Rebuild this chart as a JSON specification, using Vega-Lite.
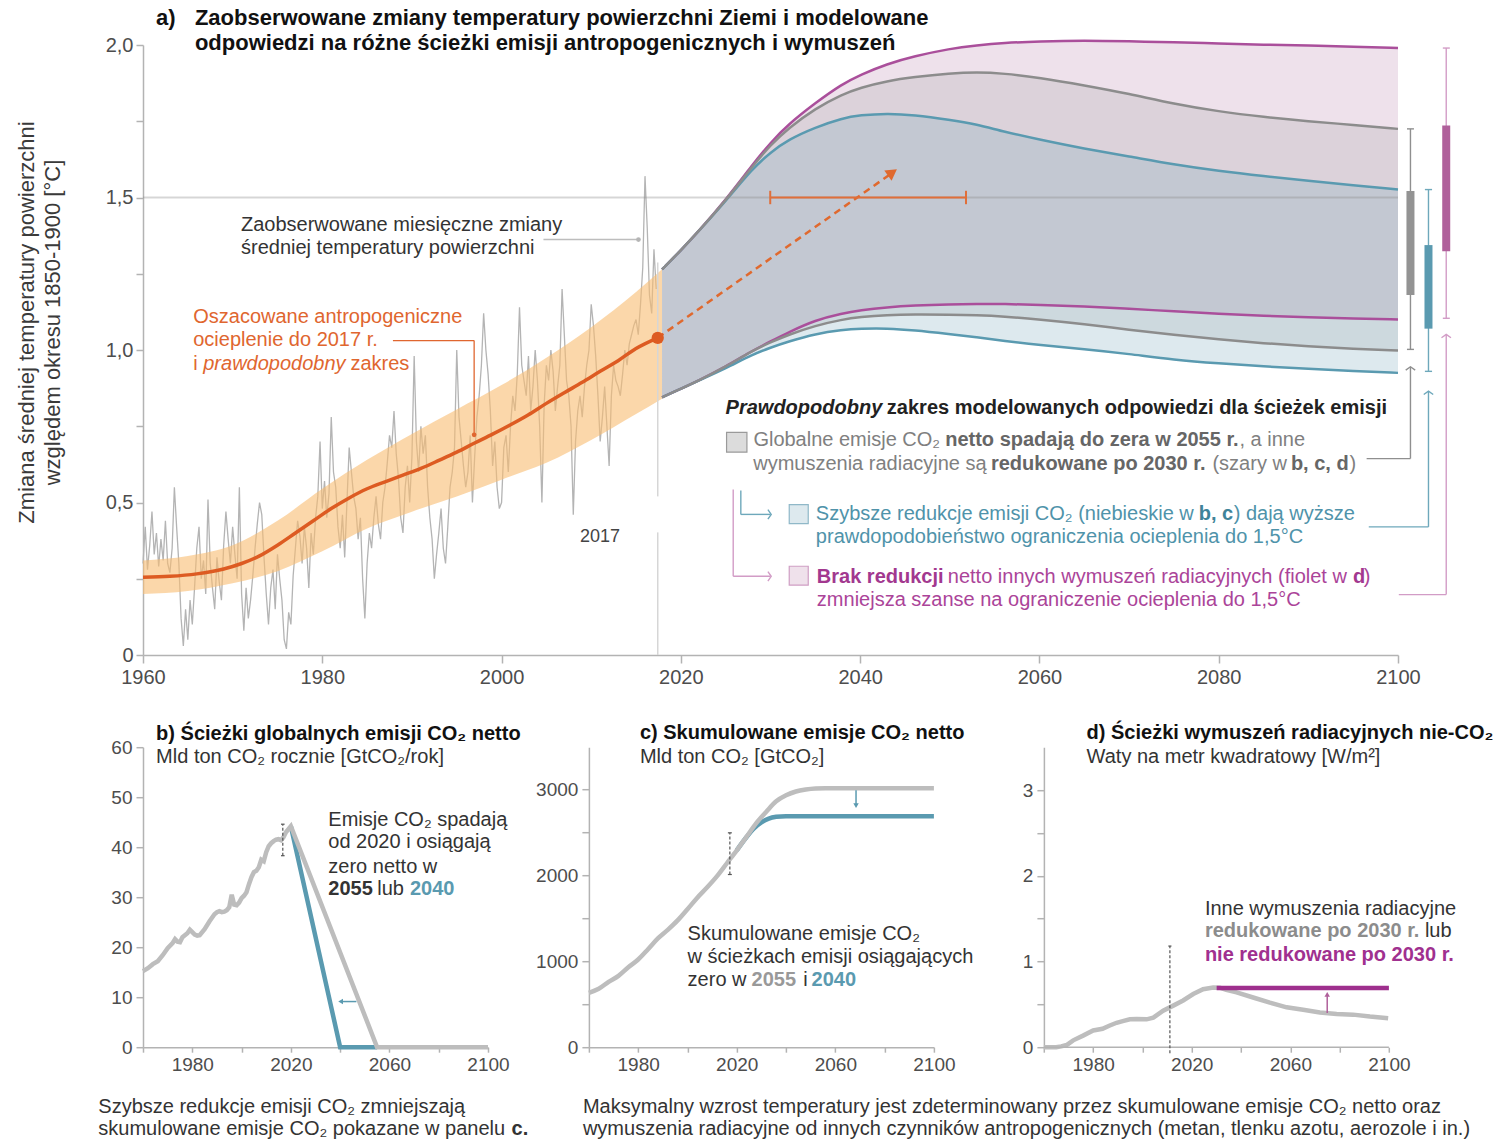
{
"$schema": "https://vega.github.io/schema/vega-lite/v6.json",
"padding": {"left": 15, "top": 6, "right": 2, "bottom": 2},
"background": "white",
"config": {"view": {"stroke": null}, "font": "Liberation Sans",
  "axis": {"grid": false, "domainColor": "#b3b3b3", "tickColor": "#b3b3b3", "domainWidth": 1.5, "tickWidth": 1.5, "labelColor": "#4d4d4d", "labelFlush": false, "labelOverlap": false, "labelFont": "Liberation Sans", "titleFont": "Liberation Sans"}},
"datasets": {
 "model": [
  {"year":2017.9,"pu":1.264,"gu":1.264,"bu":1.264,"pl":0.845,"gl":0.845,"bl":0.845},
  {"year":2020,"pu":1.327,"gu":1.327,"bu":1.327,"pl":0.873,"gl":0.873,"bl":0.873},
  {"year":2022,"pu":1.39,"gu":1.39,"bu":1.39,"pl":0.9,"gl":0.9,"bl":0.9},
  {"year":2025,"pu":1.492,"gu":1.49,"bu":1.488,"pl":0.945,"gl":0.945,"bl":0.94},
  {"year":2028,"pu":1.608,"gu":1.603,"bu":1.595,"pl":0.998,"gl":0.998,"bl":0.985},
  {"year":2030,"pu":1.68,"gu":1.672,"bu":1.648,"pl":1.028,"gl":1.025,"bl":1.008},
  {"year":2032,"pu":1.74,"gu":1.727,"bu":1.69,"pl":1.058,"gl":1.05,"bl":1.028},
  {"year":2035,"pu":1.81,"gu":1.792,"bu":1.73,"pl":1.098,"gl":1.08,"bl":1.053},
  {"year":2038,"pu":1.872,"gu":1.838,"bu":1.76,"pl":1.12,"gl":1.1,"bl":1.066},
  {"year":2040,"pu":1.902,"gu":1.86,"bu":1.77,"pl":1.13,"gl":1.108,"bl":1.07},
  {"year":2043,"pu":1.938,"gu":1.882,"bu":1.776,"pl":1.14,"gl":1.115,"bl":1.071},
  {"year":2046,"pu":1.963,"gu":1.895,"bu":1.771,"pl":1.146,"gl":1.117,"bl":1.065},
  {"year":2050,"pu":1.988,"gu":1.907,"bu":1.755,"pl":1.15,"gl":1.116,"bl":1.052},
  {"year":2053,"pu":1.999,"gu":1.911,"bu":1.74,"pl":1.151,"gl":1.114,"bl":1.042},
  {"year":2056,"pu":2.007,"gu":1.907,"bu":1.716,"pl":1.151,"gl":1.11,"bl":1.03},
  {"year":2060,"pu":2.012,"gu":1.893,"bu":1.69,"pl":1.148,"gl":1.1,"bl":1.016},
  {"year":2065,"pu":2.015,"gu":1.868,"bu":1.66,"pl":1.143,"gl":1.085,"bl":1.003},
  {"year":2070,"pu":2.012,"gu":1.84,"bu":1.635,"pl":1.135,"gl":1.066,"bl":0.987},
  {"year":2075,"pu":2.009,"gu":1.807,"bu":1.608,"pl":1.127,"gl":1.05,"bl":0.968},
  {"year":2080,"pu":2.005,"gu":1.782,"bu":1.587,"pl":1.119,"gl":1.035,"bl":0.956},
  {"year":2085,"pu":2.001,"gu":1.764,"bu":1.57,"pl":1.112,"gl":1.022,"bl":0.946},
  {"year":2090,"pu":1.998,"gu":1.75,"bu":1.555,"pl":1.107,"gl":1.012,"bl":0.938},
  {"year":2095,"pu":1.995,"gu":1.738,"bu":1.54,"pl":1.103,"gl":1.004,"bl":0.931},
  {"year":2100,"pu":1.99,"gu":1.725,"bu":1.526,"pl":1.1,"gl":0.998,"bl":0.925}
 ]
},
"spacing": 92.2,
"bounds": "flush",
"vconcat": [
 {
  "width": 1255, "height": 610,
  "layer": [
   {"data": {"values": [
{"year":1960,"v":0.3},{"year":1960.25,"v":0.42},{"year":1960.5,"v":0.28},{"year":1960.75,"v":0.36},{"year":1961,"v":0.47},{"year":1961.25,"v":0.33},{"year":1961.5,"v":0.4},{"year":1961.75,"v":0.29},
{"year":1962,"v":0.38},{"year":1962.25,"v":0.31},{"year":1962.5,"v":0.44},{"year":1962.75,"v":0.3},{"year":1963,"v":0.27},{"year":1963.25,"v":0.35},{"year":1963.5,"v":0.55},{"year":1963.75,"v":0.42},
{"year":1964,"v":0.3},{"year":1964.25,"v":0.12},{"year":1964.5,"v":0.03},{"year":1964.75,"v":0.15},{"year":1965,"v":0.05},{"year":1965.25,"v":0.18},{"year":1965.5,"v":0.1},{"year":1965.75,"v":0.22},
{"year":1966,"v":0.35},{"year":1966.25,"v":0.42},{"year":1966.5,"v":0.25},{"year":1966.75,"v":0.31},{"year":1967,"v":0.2},{"year":1967.25,"v":0.51},{"year":1967.5,"v":0.3},{"year":1967.75,"v":0.22},
{"year":1968,"v":0.15},{"year":1968.25,"v":0.32},{"year":1968.5,"v":0.24},{"year":1968.75,"v":0.18},{"year":1969,"v":0.36},{"year":1969.25,"v":0.47},{"year":1969.5,"v":0.38},{"year":1969.75,"v":0.3},
{"year":1970,"v":0.42},{"year":1970.25,"v":0.33},{"year":1970.5,"v":0.25},{"year":1970.75,"v":0.55},{"year":1971,"v":0.2},{"year":1971.25,"v":0.08},{"year":1971.5,"v":0.22},{"year":1971.75,"v":0.12},
{"year":1972,"v":0.18},{"year":1972.25,"v":0.26},{"year":1972.5,"v":0.35},{"year":1972.75,"v":0.43},{"year":1973,"v":0.5},{"year":1973.25,"v":0.46},{"year":1973.5,"v":0.32},{"year":1973.75,"v":0.2},
{"year":1974,"v":0.1},{"year":1974.25,"v":0.22},{"year":1974.5,"v":0.28},{"year":1974.75,"v":0.15},{"year":1975,"v":0.33},{"year":1975.25,"v":0.25},{"year":1975.5,"v":0.18},{"year":1975.75,"v":0.05},
{"year":1976,"v":0.02},{"year":1976.25,"v":0.14},{"year":1976.5,"v":0.1},{"year":1976.75,"v":0.26},{"year":1977,"v":0.35},{"year":1977.25,"v":0.44},{"year":1977.5,"v":0.39},{"year":1977.75,"v":0.3},
{"year":1978,"v":0.42},{"year":1978.25,"v":0.35},{"year":1978.5,"v":0.22},{"year":1978.75,"v":0.4},{"year":1979,"v":0.33},{"year":1979.25,"v":0.45},{"year":1979.5,"v":0.52},{"year":1979.75,"v":0.7},
{"year":1980,"v":0.48},{"year":1980.25,"v":0.57},{"year":1980.5,"v":0.45},{"year":1980.75,"v":0.53},{"year":1981,"v":0.78},{"year":1981.25,"v":0.6},{"year":1981.5,"v":0.55},{"year":1981.75,"v":0.42},
{"year":1982,"v":0.35},{"year":1982.25,"v":0.46},{"year":1982.5,"v":0.32},{"year":1982.75,"v":0.5},{"year":1983,"v":0.68},{"year":1983.25,"v":0.6},{"year":1983.5,"v":0.52},{"year":1983.75,"v":0.48},
{"year":1984,"v":0.38},{"year":1984.25,"v":0.45},{"year":1984.5,"v":0.25},{"year":1984.75,"v":0.12},{"year":1985,"v":0.3},{"year":1985.25,"v":0.4},{"year":1985.5,"v":0.35},{"year":1985.75,"v":0.45},
{"year":1986,"v":0.52},{"year":1986.25,"v":0.43},{"year":1986.5,"v":0.38},{"year":1986.75,"v":0.5},{"year":1987,"v":0.55},{"year":1987.25,"v":0.63},{"year":1987.5,"v":0.72},{"year":1987.75,"v":0.68},
{"year":1988,"v":0.8},{"year":1988.25,"v":0.66},{"year":1988.5,"v":0.58},{"year":1988.75,"v":0.45},{"year":1989,"v":0.4},{"year":1989.25,"v":0.55},{"year":1989.5,"v":0.62},{"year":1989.75,"v":0.5},
{"year":1990,"v":0.65},{"year":1990.25,"v":0.98},{"year":1990.5,"v":0.7},{"year":1990.75,"v":0.6},{"year":1991,"v":0.75},{"year":1991.25,"v":0.66},{"year":1991.5,"v":0.72},{"year":1991.75,"v":0.55},
{"year":1992,"v":0.45},{"year":1992.25,"v":0.38},{"year":1992.5,"v":0.25},{"year":1992.75,"v":0.33},{"year":1993,"v":0.4},{"year":1993.25,"v":0.48},{"year":1993.5,"v":0.35},{"year":1993.75,"v":0.3},
{"year":1994,"v":0.42},{"year":1994.25,"v":0.55},{"year":1994.5,"v":0.6},{"year":1994.75,"v":0.68},{"year":1995,"v":1.0},{"year":1995.25,"v":0.78},{"year":1995.5,"v":0.7},{"year":1995.75,"v":0.62},
{"year":1996,"v":0.55},{"year":1996.25,"v":0.6},{"year":1996.5,"v":0.72},{"year":1996.75,"v":0.5},{"year":1997,"v":0.65},{"year":1997.25,"v":0.78},{"year":1997.5,"v":0.85},{"year":1997.75,"v":0.95},
{"year":1998,"v":1.12},{"year":1998.25,"v":1.0},{"year":1998.5,"v":0.92},{"year":1998.75,"v":0.8},{"year":1999,"v":0.62},{"year":1999.25,"v":0.7},{"year":1999.5,"v":0.55},{"year":1999.75,"v":0.48},
{"year":2000,"v":0.5},{"year":2000.25,"v":0.68},{"year":2000.5,"v":0.72},{"year":2000.75,"v":0.6},{"year":2001,"v":0.75},{"year":2001.25,"v":0.85},{"year":2001.5,"v":0.8},{"year":2001.75,"v":0.92},
{"year":2002,"v":1.14},{"year":2002.25,"v":0.95},{"year":2002.5,"v":0.9},{"year":2002.75,"v":0.85},{"year":2003,"v":0.98},{"year":2003.25,"v":0.8},{"year":2003.5,"v":0.88},{"year":2003.75,"v":1.0},
{"year":2004,"v":0.9},{"year":2004.25,"v":0.75},{"year":2004.5,"v":0.5},{"year":2004.75,"v":0.82},{"year":2005,"v":0.95},{"year":2005.25,"v":0.9},{"year":2005.5,"v":1.0},{"year":2005.75,"v":0.93},
{"year":2006,"v":0.8},{"year":2006.25,"v":0.88},{"year":2006.5,"v":0.95},{"year":2006.75,"v":1.2},{"year":2007,"v":1.05},{"year":2007.25,"v":0.9},{"year":2007.5,"v":0.85},{"year":2007.75,"v":0.75},
{"year":2008,"v":0.46},{"year":2008.25,"v":0.7},{"year":2008.5,"v":0.8},{"year":2008.75,"v":0.85},{"year":2009,"v":0.78},{"year":2009.25,"v":0.88},{"year":2009.5,"v":0.95},{"year":2009.75,"v":1.0},
{"year":2010,"v":1.15},{"year":2010.25,"v":1.08},{"year":2010.5,"v":0.98},{"year":2010.75,"v":0.85},{"year":2011,"v":0.7},{"year":2011.25,"v":0.78},{"year":2011.5,"v":0.88},{"year":2011.75,"v":0.75},
{"year":2012,"v":0.62},{"year":2012.25,"v":0.85},{"year":2012.5,"v":0.95},{"year":2012.75,"v":0.9},{"year":2013,"v":0.88},{"year":2013.25,"v":0.85},{"year":2013.5,"v":0.92},{"year":2013.75,"v":1.0},
{"year":2014,"v":0.95},{"year":2014.25,"v":1.02},{"year":2014.5,"v":1.05},{"year":2014.75,"v":1.08},{"year":2015,"v":1.1},{"year":2015.25,"v":1.05},{"year":2015.5,"v":1.15},{"year":2015.75,"v":1.27},
{"year":2016,"v":1.57},{"year":2016.25,"v":1.4},{"year":2016.5,"v":1.18},{"year":2016.75,"v":1.12},{"year":2017,"v":1.33},{"year":2017.25,"v":1.2}
    ]},
    "mark": {"type": "line", "color": "#b4b4b4", "strokeWidth": 1.3},
    "encoding": {
     "x": {"field": "year", "type": "quantitative", "scale": {"domain": [1960, 2100], "nice": false, "zero": false},
       "axis": {"values": [1960,1980,2000,2020,2040,2060,2080,2100], "format": "d", "title": null, "labelFontSize": 20, "tickSize": 8, "labelPadding": 4}},
     "y": {"field": "v", "type": "quantitative", "scale": {"domain": [0, 2], "nice": false, "zero": false},
       "axis": {"values": [0,0.25,0.5,0.75,1,1.25,1.5,1.75,2], "labelExpr": "datum.value === 0 ? '0' : (datum.value % 0.5 === 0 ? replace(format(datum.value, '.1f'), '.', ',') : '')",
         "title": ["Zmiana średniej temperatury powierzchni", "względem okresu 1850-1900 [°C]"], "titleFontSize": 22, "titleFontWeight": "normal", "titleColor": "#3a3a3a",
         "titleX": -110, "titleY": 277, "titleAngle": -90, "titleAlign": "center", "titleBaseline": "alphabetic", "titleLineHeight": 26,
         "labelFontSize": 20, "tickSize": 7, "labelPadding": 3}}
    }},
   {"data": {"values": [
     {"year":1960,"lo":0.2,"hi":0.31},{"year":1965,"lo":0.21,"hi":0.325},{"year":1970,"lo":0.235,"hi":0.36},{"year":1975,"lo":0.275,"hi":0.44},
     {"year":1980,"lo":0.34,"hi":0.545},{"year":1985,"lo":0.415,"hi":0.64},{"year":1990,"lo":0.47,"hi":0.725},{"year":1995,"lo":0.52,"hi":0.805},
     {"year":2000,"lo":0.575,"hi":0.885},{"year":2005,"lo":0.63,"hi":0.975},{"year":2010,"lo":0.705,"hi":1.075},{"year":2015,"lo":0.79,"hi":1.19},{"year":2017.9,"lo":0.84,"hi":1.265}]},
    "mark": {"type": "area", "color": "#f9bd72", "opacity": 0.6, "interpolate": "monotone"},
    "encoding": {"x": {"field": "year", "type": "quantitative"}, "y": {"field": "lo", "type": "quantitative"}, "y2": {"field": "hi"}}},
   {"data": {"values": [{"x":2017.42,"y1":0,"y2":0.402},{"x":2017.42,"y1":0.52,"y2":1.287}]},
    "mark": {"type": "rule", "color": "#d6d6d6", "strokeWidth": 1.5},
    "encoding": {"x": {"field": "x", "type": "quantitative"}, "y": {"field": "y1", "type": "quantitative"}, "y2": {"field": "y2"}}},
   {"data": {"name": "model"}, "mark": {"type": "area", "color": "#eee1eb", "interpolate": "basis"},
    "encoding": {"x": {"field": "year", "type": "quantitative"}, "y": {"field": "gu", "type": "quantitative"}, "y2": {"field": "pu"}}},
   {"data": {"name": "model"}, "mark": {"type": "area", "color": "#dcd2da", "interpolate": "basis"},
    "encoding": {"x": {"field": "year", "type": "quantitative"}, "y": {"field": "bu", "type": "quantitative"}, "y2": {"field": "gu"}}},
   {"data": {"name": "model"}, "mark": {"type": "area", "color": "#c3c8d2", "interpolate": "basis"},
    "encoding": {"x": {"field": "year", "type": "quantitative"}, "y": {"field": "pl", "type": "quantitative"}, "y2": {"field": "bu"}}},
   {"data": {"name": "model"}, "mark": {"type": "area", "color": "#cdd9de", "interpolate": "basis"},
    "encoding": {"x": {"field": "year", "type": "quantitative"}, "y": {"field": "gl", "type": "quantitative"}, "y2": {"field": "pl"}}},
   {"data": {"name": "model"}, "mark": {"type": "area", "color": "#dde9ee", "interpolate": "basis"},
    "encoding": {"x": {"field": "year", "type": "quantitative"}, "y": {"field": "bl", "type": "quantitative"}, "y2": {"field": "gl"}}},
   {"data": {"name": "model"}, "mark": {"type": "line", "color": "#aa4f9b", "strokeWidth": 2.5, "interpolate": "basis"},
    "encoding": {"x": {"field": "year", "type": "quantitative"}, "y": {"field": "pu", "type": "quantitative"}}},
   {"data": {"name": "model"}, "mark": {"type": "line", "color": "#aa4f9b", "strokeWidth": 2.5, "interpolate": "basis"},
    "encoding": {"x": {"field": "year", "type": "quantitative"}, "y": {"field": "pl", "type": "quantitative"}}},
   {"data": {"name": "model"}, "mark": {"type": "line", "color": "#5a9ab0", "strokeWidth": 2.5, "interpolate": "basis"},
    "encoding": {"x": {"field": "year", "type": "quantitative"}, "y": {"field": "bu", "type": "quantitative"}}},
   {"data": {"name": "model"}, "mark": {"type": "line", "color": "#5a9ab0", "strokeWidth": 2.5, "interpolate": "basis"},
    "encoding": {"x": {"field": "year", "type": "quantitative"}, "y": {"field": "bl", "type": "quantitative"}}},
   {"data": {"name": "model"}, "mark": {"type": "line", "color": "#8c8c8c", "strokeWidth": 2.5, "interpolate": "basis"},
    "encoding": {"x": {"field": "year", "type": "quantitative"}, "y": {"field": "gu", "type": "quantitative"}}},
   {"data": {"name": "model"}, "mark": {"type": "line", "color": "#8c8c8c", "strokeWidth": 2.5, "interpolate": "basis"},
    "encoding": {"x": {"field": "year", "type": "quantitative"}, "y": {"field": "gl", "type": "quantitative"}}},
   {"data": {"values": [{"x1":1960,"x2":2100,"y":1.5}]},
    "mark": {"type": "rule", "color": "#8a8a8a", "opacity": 0.35, "strokeWidth": 2},
    "encoding": {"x": {"field": "x1", "type": "quantitative"}, "x2": {"field": "x2"}, "y": {"field": "y", "type": "quantitative"}}},
   {"data": {"values": [
     {"year":1960,"v":0.255},{"year":1963,"v":0.258},{"year":1966,"v":0.266},{"year":1969,"v":0.282},{"year":1971,"v":0.3},{"year":1973,"v":0.325},{"year":1975,"v":0.36},
     {"year":1977,"v":0.4},{"year":1979,"v":0.44},{"year":1981,"v":0.48},{"year":1983,"v":0.515},{"year":1985,"v":0.545},{"year":1987,"v":0.568},{"year":1989,"v":0.59},
     {"year":1991,"v":0.612},{"year":1993,"v":0.638},{"year":1995,"v":0.665},{"year":1997,"v":0.695},{"year":1999,"v":0.724},{"year":2001,"v":0.755},{"year":2003,"v":0.788},
     {"year":2005,"v":0.825},{"year":2007,"v":0.86},{"year":2009,"v":0.894},{"year":2011,"v":0.93},{"year":2013,"v":0.965},{"year":2015,"v":1.005},{"year":2017.42,"v":1.04}]},
    "mark": {"type": "line", "color": "#dd5b22", "strokeWidth": 3.5, "interpolate": "monotone"},
    "encoding": {"x": {"field": "year", "type": "quantitative"}, "y": {"field": "v", "type": "quantitative"}}},
   {"data": {"values": [{"x1":1987.88,"x2":1996.94,"y1":1.031,"y2":1.031},{"x1":1996.94,"x2":1996.94,"y1":1.031,"y2":0.722}]},
    "mark": {"type": "rule", "color": "#e0662f", "strokeWidth": 1.3},
    "encoding": {"x": {"field": "x1", "type": "quantitative"}, "x2": {"field": "x2"}, "y": {"field": "y1", "type": "quantitative"}, "y2": {"field": "y2"}}},
   {"data": {"values": [{"x":1996.94,"y":0.722}]},
    "mark": {"type": "point", "filled": true, "color": "#e0662f", "size": 22, "opacity": 1},
    "encoding": {"x": {"field": "x", "type": "quantitative"}, "y": {"field": "y", "type": "quantitative"}}},
   {"data": {"values": [{"x1":2004.67,"x2":2015.27,"y":1.362}]},
    "mark": {"type": "rule", "color": "#bdbdbd", "strokeWidth": 1.5},
    "encoding": {"x": {"field": "x1", "type": "quantitative"}, "x2": {"field": "x2"}, "y": {"field": "y", "type": "quantitative"}}},
   {"data": {"values": [{"x":2015.27,"y":1.362}]},
    "mark": {"type": "point", "filled": true, "color": "#b5b5b5", "size": 22, "opacity": 1},
    "encoding": {"x": {"field": "x", "type": "quantitative"}, "y": {"field": "y", "type": "quantitative"}}},
   {"data": {"values": [{"x1":2017.42,"y1":1.04,"x2":2043.2,"y2":1.573}]},
    "mark": {"type": "rule", "color": "#e0692e", "strokeWidth": 2.5, "strokeDash": [7, 5]},
    "encoding": {"x": {"field": "x1", "type": "quantitative"}, "x2": {"field": "x2"}, "y": {"field": "y1", "type": "quantitative"}, "y2": {"field": "y2"}}},
   {"data": {"values": [{"x":2043.6,"y":1.582}]},
    "mark": {"type": "point", "shape": "triangle-up", "angle": 54.8, "filled": true, "color": "#e0692e", "size": 160, "opacity": 1},
    "encoding": {"x": {"field": "x", "type": "quantitative"}, "y": {"field": "y", "type": "quantitative"}}},
   {"data": {"values": [{"x":2017.42,"y":1.04}]},
    "mark": {"type": "point", "filled": true, "color": "#dd5b22", "size": 150, "opacity": 1},
    "encoding": {"x": {"field": "x", "type": "quantitative"}, "y": {"field": "y", "type": "quantitative"}}},
   {"data": {"values": [{"x1":2029.97,"x2":2051.81,"y1":1.5,"y2":1.5},{"x1":2029.97,"x2":2029.97,"y1":1.478,"y2":1.522},{"x1":2051.81,"x2":2051.81,"y1":1.478,"y2":1.522}]},
    "mark": {"type": "rule", "color": "#e06f3a", "strokeWidth": 2},
    "encoding": {"x": {"field": "x1", "type": "quantitative"}, "x2": {"field": "x2"}, "y": {"field": "y1", "type": "quantitative"}, "y2": {"field": "y2"}}},
   {"data": {"values": [
     {"x1":2101.39,"x2":2101.39,"y1":1.002,"y2":1.725},{"x1":2101.0,"x2":2101.78,"y1":1.725,"y2":1.725},{"x1":2101.0,"x2":2101.78,"y1":1.002,"y2":1.002},
     {"x1":2096.5,"x2":2101.39,"y1":0.644,"y2":0.644},{"x1":2101.39,"x2":2101.39,"y1":0.644,"y2":0.945}]},
    "mark": {"type": "rule", "color": "#8f8f8f", "strokeWidth": 1.4},
    "encoding": {"x": {"field": "x1", "type": "quantitative"}, "x2": {"field": "x2"}, "y": {"field": "y1", "type": "quantitative"}, "y2": {"field": "y2"}}},
   {"data": {"values": [
     {"x1":2103.4,"x2":2103.4,"y1":0.93,"y2":1.526},{"x1":2103.0,"x2":2103.8,"y1":1.526,"y2":1.526},{"x1":2103.0,"x2":2103.8,"y1":0.93,"y2":0.93},
     {"x1":2096.74,"x2":2103.4,"y1":0.42,"y2":0.42},{"x1":2103.4,"x2":2103.4,"y1":0.42,"y2":0.865},
     {"x1":2026.69,"x2":2026.69,"y1":0.539,"y2":0.461},{"x1":2026.69,"x2":2030.0,"y1":0.461,"y2":0.461}]},
    "mark": {"type": "rule", "color": "#6ea8bb", "strokeWidth": 1.4},
    "encoding": {"x": {"field": "x1", "type": "quantitative"}, "x2": {"field": "x2"}, "y": {"field": "y1", "type": "quantitative"}, "y2": {"field": "y2"}}},
   {"data": {"values": [
     {"x1":2105.38,"x2":2105.38,"y1":1.104,"y2":1.99},{"x1":2105.0,"x2":2105.78,"y1":1.99,"y2":1.99},{"x1":2105.0,"x2":2105.78,"y1":1.104,"y2":1.104},
     {"x1":2100.09,"x2":2105.38,"y1":0.198,"y2":0.198},{"x1":2105.38,"x2":2105.38,"y1":0.198,"y2":1.051},
     {"x1":2025.84,"x2":2025.84,"y1":0.543,"y2":0.258},{"x1":2025.84,"x2":2030.0,"y1":0.258,"y2":0.258}]},
    "mark": {"type": "rule", "color": "#d29cc6", "strokeWidth": 1.4},
    "encoding": {"x": {"field": "x1", "type": "quantitative"}, "x2": {"field": "x2"}, "y": {"field": "y1", "type": "quantitative"}, "y2": {"field": "y2"}}},
   {"data": {"values": [{"x":2101.39,"y1":1.18,"y2":1.521}]},
    "mark": {"type": "rule", "color": "#939393", "strokeWidth": 8},
    "encoding": {"x": {"field": "x", "type": "quantitative"}, "y": {"field": "y1", "type": "quantitative"}, "y2": {"field": "y2"}}},
   {"data": {"values": [{"x":2103.4,"y1":1.07,"y2":1.344}]},
    "mark": {"type": "rule", "color": "#5a9ab0", "strokeWidth": 8},
    "encoding": {"x": {"field": "x", "type": "quantitative"}, "y": {"field": "y1", "type": "quantitative"}, "y2": {"field": "y2"}}},
   {"data": {"values": [{"x":2105.38,"y1":1.324,"y2":1.736}]},
    "mark": {"type": "rule", "color": "#b0609b", "strokeWidth": 8},
    "encoding": {"x": {"field": "x", "type": "quantitative"}, "y": {"field": "y1", "type": "quantitative"}, "y2": {"field": "y2"}}},
   {"data": {"values": [{"x":2101.39,"y":0.945}]},
    "mark": {"type": "point", "shape": "M -1 0.7 L 0 0 L 1 0.7", "filled": false, "color": "#8f8f8f", "strokeWidth": 1.4, "size": 90, "opacity": 1},
    "encoding": {"x": {"field": "x", "type": "quantitative"}, "y": {"field": "y", "type": "quantitative"}}},
   {"data": {"values": [{"x":2103.4,"y":0.865}]},
    "mark": {"type": "point", "shape": "M -1 0.7 L 0 0 L 1 0.7", "filled": false, "color": "#6ea8bb", "strokeWidth": 1.4, "size": 90, "opacity": 1},
    "encoding": {"x": {"field": "x", "type": "quantitative"}, "y": {"field": "y", "type": "quantitative"}}},
   {"data": {"values": [{"x":2105.38,"y":1.051}]},
    "mark": {"type": "point", "shape": "M -1 0.7 L 0 0 L 1 0.7", "filled": false, "color": "#d29cc6", "strokeWidth": 1.4, "size": 90, "opacity": 1},
    "encoding": {"x": {"field": "x", "type": "quantitative"}, "y": {"field": "y", "type": "quantitative"}}},
   {"data": {"values": [{"x":2030.08,"y":0.461}]},
    "mark": {"type": "point", "shape": "M -0.7 -1 L 0 0 L -0.7 1", "filled": false, "color": "#6ea8bb", "strokeWidth": 1.4, "size": 90, "opacity": 1},
    "encoding": {"x": {"field": "x", "type": "quantitative"}, "y": {"field": "y", "type": "quantitative"}}},
   {"data": {"values": [{"x":2030.08,"y":0.258}]},
    "mark": {"type": "point", "shape": "M -0.7 -1 L 0 0 L -0.7 1", "filled": false, "color": "#d29cc6", "strokeWidth": 1.4, "size": 90, "opacity": 1},
    "encoding": {"x": {"field": "x", "type": "quantitative"}, "y": {"field": "y", "type": "quantitative"}}},
   {"data": {"values": [{"x1":2025.1,"x2":2027.37,"y1":0.665,"y2":0.73}]},
    "mark": {"type": "rect", "fill": "#dcdcdc", "stroke": "#9a9a9a", "strokeWidth": 1.2},
    "encoding": {"x": {"field": "x1", "type": "quantitative"}, "x2": {"field": "x2"}, "y": {"field": "y1", "type": "quantitative"}, "y2": {"field": "y2"}}},
   {"data": {"values": [{"x1":2032.09,"x2":2034.21,"y1":0.431,"y2":0.493}]},
    "mark": {"type": "rect", "fill": "#dde9ee", "stroke": "#8fb8c8", "strokeWidth": 1.2},
    "encoding": {"x": {"field": "x1", "type": "quantitative"}, "x2": {"field": "x2"}, "y": {"field": "y1", "type": "quantitative"}, "y2": {"field": "y2"}}},
   {"data": {"values": [{"x1":2032.09,"x2":2034.21,"y1":0.229,"y2":0.291}]},
    "mark": {"type": "rect", "fill": "#efe1eb", "stroke": "#cf9ec4", "strokeWidth": 1.2},
    "encoding": {"x": {"field": "x1", "type": "quantitative"}, "x2": {"field": "x2"}, "y": {"field": "y1", "type": "quantitative"}, "y2": {"field": "y2"}}},
   {"data": {"values": [{"x":1961.44,"y":2.067,"t":"a)"},{"x":1965.79,"y":2.067,"t":"Zaobserwowane zmiany temperatury powierzchni Ziemi i modelowane"},{"x":1965.79,"y":1.983,"t":"odpowiedzi na różne ścieżki emisji antropogenicznych i wymuszeń"}]},
    "mark": {"type": "text", "align": "left", "baseline": "alphabetic", "fontSize": 22, "fontWeight": "bold", "color": "#111111"},
    "encoding": {"x": {"field": "x", "type": "quantitative"}, "y": {"field": "y", "type": "quantitative"}, "text": {"field": "t", "type": "nominal"}}},
   {"data": {"values": [{"x":1970.93,"y":1.39,"t":"Zaobserwowane miesięczne zmiany"},{"x":1970.93,"y":1.316,"t":"średniej temperatury powierzchni"}]},
    "mark": {"type": "text", "align": "left", "baseline": "alphabetic", "fontSize": 20, "color": "#333333"},
    "encoding": {"x": {"field": "x", "type": "quantitative"}, "y": {"field": "y", "type": "quantitative"}, "text": {"field": "t", "type": "nominal"}}},
   {"data": {"values": [{"x":1965.6,"y":1.089,"t":"Oszacowane antropogeniczne"},{"x":1965.6,"y":1.012,"t":"ocieplenie do 2017 r."},{"x":1965.6,"y":0.934,"t":"i"},{"x":1983.14,"y":0.934,"t":"zakres"}]},
    "mark": {"type": "text", "align": "left", "baseline": "alphabetic", "fontSize": 20, "color": "#e0662f"},
    "encoding": {"x": {"field": "x", "type": "quantitative"}, "y": {"field": "y", "type": "quantitative"}, "text": {"field": "t", "type": "nominal"}}},
   {"data": {"values": [{"x":1966.72,"y":0.934,"t":"prawdopodobny"}]},
    "mark": {"type": "text", "align": "left", "baseline": "alphabetic", "fontSize": 20, "fontStyle": "italic", "color": "#e0662f"},
    "encoding": {"x": {"field": "x", "type": "quantitative"}, "y": {"field": "y", "type": "quantitative"}, "text": {"field": "t", "type": "nominal"}}},
   {"data": {"values": [{"x":2010.99,"y":0.372,"t":"2017"}]},
    "mark": {"type": "text", "align": "center", "baseline": "alphabetic", "fontSize": 18, "color": "#444444"},
    "encoding": {"x": {"field": "x", "type": "quantitative"}, "y": {"field": "y", "type": "quantitative"}, "text": {"field": "t", "type": "nominal"}}},
   {"data": {"values": [{"x":2024.99,"y":0.789,"t":"Prawdopodobny"}]},
    "mark": {"type": "text", "align": "left", "baseline": "alphabetic", "fontSize": 20, "fontWeight": "bold", "fontStyle": "italic", "color": "#222222"},
    "encoding": {"x": {"field": "x", "type": "quantitative"}, "y": {"field": "y", "type": "quantitative"}, "text": {"field": "t", "type": "nominal"}}},
   {"data": {"values": [{"x":2042.98,"y":0.789,"t":"zakres modelowanych odpowiedzi dla ścieżek emisji"}]},
    "mark": {"type": "text", "align": "left", "baseline": "alphabetic", "fontSize": 20, "fontWeight": "bold", "color": "#222222"},
    "encoding": {"x": {"field": "x", "type": "quantitative"}, "y": {"field": "y", "type": "quantitative"}, "text": {"field": "t", "type": "nominal"}}},
   {"data": {"values": [{"x":2028.09,"y":0.685,"t":"Globalne emisje CO₂"},{"x":2082.31,"y":0.685,"t":", a inne"},{"x":2028.07,"y":0.608,"t":"wymuszenia radiacyjne są"},{"x":2079.3,"y":0.608,"t":"(szary w"},{"x":2094.6,"y":0.608,"t":")"}]},
    "mark": {"type": "text", "align": "left", "baseline": "alphabetic", "fontSize": 20, "color": "#808080"},
    "encoding": {"x": {"field": "x", "type": "quantitative"}, "y": {"field": "y", "type": "quantitative"}, "text": {"field": "t", "type": "nominal"}}},
   {"data": {"values": [{"x":2049.49,"y":0.685,"t":"netto spadają do zera w 2055 r."},{"x":2054.59,"y":0.608,"t":"redukowane po 2030 r."},{"x":2088.05,"y":0.608,"t":"b, c, d"}]},
    "mark": {"type": "text", "align": "left", "baseline": "alphabetic", "fontSize": 20, "fontWeight": "bold", "color": "#666666"},
    "encoding": {"x": {"field": "x", "type": "quantitative"}, "y": {"field": "y", "type": "quantitative"}, "text": {"field": "t", "type": "nominal"}}},
   {"data": {"values": [{"x":2035.06,"y":0.444,"t":"Szybsze redukcje emisji CO₂ (niebieskie w"},{"x":2081.67,"y":0.444,"t":") dają wyższe"},{"x":2035.06,"y":0.368,"t":"prawdopodobieństwo ograniczenia ocieplenia do 1,5°C"}]},
    "mark": {"type": "text", "align": "left", "baseline": "alphabetic", "fontSize": 20, "color": "#4f93aa"},
    "encoding": {"x": {"field": "x", "type": "quantitative"}, "y": {"field": "y", "type": "quantitative"}, "text": {"field": "t", "type": "nominal"}}},
   {"data": {"values": [{"x":2077.77,"y":0.444,"t":"b, c"}]},
    "mark": {"type": "text", "align": "left", "baseline": "alphabetic", "fontSize": 20, "fontWeight": "bold", "color": "#3f8399"},
    "encoding": {"x": {"field": "x", "type": "quantitative"}, "y": {"field": "y", "type": "quantitative"}, "text": {"field": "t", "type": "nominal"}}},
   {"data": {"values": [{"x":2035.17,"y":0.237,"t":"Brak redukcji"},{"x":2094.99,"y":0.237,"t":"d"}]},
    "mark": {"type": "text", "align": "left", "baseline": "alphabetic", "fontSize": 20, "fontWeight": "bold", "color": "#a2388f"},
    "encoding": {"x": {"field": "x", "type": "quantitative"}, "y": {"field": "y", "type": "quantitative"}, "text": {"field": "t", "type": "nominal"}}},
   {"data": {"values": [{"x":2049.78,"y":0.237,"t":"netto innych wymuszeń radiacyjnych (fiolet w"},{"x":2096.18,"y":0.237,"t":")"},{"x":2035.17,"y":0.16,"t":"zmniejsza szanse na ograniczenie ocieplenia do 1,5°C"}]},
    "mark": {"type": "text", "align": "left", "baseline": "alphabetic", "fontSize": 20, "color": "#ab4499"},
    "encoding": {"x": {"field": "x", "type": "quantitative"}, "y": {"field": "y", "type": "quantitative"}, "text": {"field": "t", "type": "nominal"}}}
  ]
 },
 {
  "hconcat": [
   {
    "width": 345, "height": 300,
    "layer": [
     {"data": {"values": [{"year":2020,"v":44.2},{"year":2040,"v":0},{"year":2055,"v":0}]},
      "mark": {"type": "line", "color": "#5a9ab0", "strokeWidth": 4.5},
      "encoding": {
       "x": {"field": "year", "type": "quantitative", "scale": {"domain": [1960, 2100], "nice": false, "zero": false},
         "axis": {"values": [1960,1980,2000,2020,2040,2060,2080,2100], "format": "d", "labelExpr": "(datum.value - 1980) % 40 === 0 ? datum.label : ''", "title": null, "tickSize": 5, "labelFontSize": 19, "labelPadding": 3}},
       "y": {"field": "v", "type": "quantitative", "scale": {"domain": [0, 60], "nice": false},
         "axis": {"values": [0,10,20,30,40,50,60], "format": "d", "title": null, "tickSize": 7, "labelFontSize": 19, "labelPadding": 4}}
      }},
     {"data": {"values": [
       {"year":1960,"v":15.2},{"year":1962,"v":15.8},{"year":1964,"v":16.6},{"year":1966,"v":17.2},{"year":1968,"v":18.4},{"year":1970,"v":19.8},{"year":1972,"v":20.8},{"year":1973,"v":21.6},
       {"year":1974,"v":21.1},{"year":1975,"v":21.0},{"year":1976,"v":22.0},{"year":1978,"v":22.8},{"year":1979,"v":23.5},{"year":1980,"v":23.0},{"year":1981,"v":22.5},{"year":1982,"v":22.3},
       {"year":1983,"v":22.4},{"year":1985,"v":23.6},{"year":1987,"v":25.2},{"year":1989,"v":26.6},{"year":1990,"v":27.0},{"year":1991,"v":27.2},{"year":1992,"v":27.0},{"year":1993,"v":27.1},
       {"year":1994,"v":27.4},{"year":1995,"v":28.0},{"year":1996,"v":30.5},{"year":1997,"v":28.5},{"year":1998,"v":28.4},{"year":1999,"v":28.9},{"year":2000,"v":29.8},{"year":2001,"v":30.3},
       {"year":2002,"v":31.0},{"year":2003,"v":32.6},{"year":2004,"v":34.0},{"year":2005,"v":35.0},{"year":2006,"v":35.3},{"year":2007,"v":36.0},{"year":2008,"v":37.5},{"year":2009,"v":37.2},
       {"year":2010,"v":39.0},{"year":2011,"v":40.2},{"year":2012,"v":40.8},{"year":2013,"v":41.2},{"year":2014,"v":41.5},{"year":2015,"v":41.6},{"year":2016,"v":41.4},{"year":2017,"v":42.0},
       {"year":2018,"v":43.0},{"year":2020,"v":44.2},{"year":2055,"v":0},{"year":2100,"v":0}]},
      "mark": {"type": "line", "color": "#bdbdbd", "strokeWidth": 4.5},
      "encoding": {"x": {"field": "year", "type": "quantitative"}, "y": {"field": "v", "type": "quantitative"}}},
     {"data": {"values": [{"x1":2016.73,"x2":2016.73,"y1":38.3,"y2":44.6}]},
      "mark": {"type": "rule", "color": "#555555", "strokeWidth": 1.2, "strokeDash": [3, 2]},
      "encoding": {"x": {"field": "x1", "type": "quantitative"}, "x2": {"field": "x2"}, "y": {"field": "y1", "type": "quantitative"}, "y2": {"field": "y2"}}},
     {"data": {"values": [{"x1":2016.0,"x2":2017.46,"y1":38.3,"y2":38.3},{"x1":2016.0,"x2":2017.46,"y1":44.6,"y2":44.6}]},
      "mark": {"type": "rule", "color": "#555555", "strokeWidth": 1.2},
      "encoding": {"x": {"field": "x1", "type": "quantitative"}, "x2": {"field": "x2"}, "y": {"field": "y1", "type": "quantitative"}, "y2": {"field": "y2"}}},
     {"data": {"values": [{"x1":2046.6,"x2":2040.6,"y1":9.13,"y2":9.13}]},
      "mark": {"type": "rule", "color": "#5a9ab0", "strokeWidth": 1.5},
      "encoding": {"x": {"field": "x1", "type": "quantitative"}, "x2": {"field": "x2"}, "y": {"field": "y1", "type": "quantitative"}, "y2": {"field": "y2"}}},
     {"data": {"values": [{"x":2040.2,"y":9.13}]},
      "mark": {"type": "point", "shape": "triangle-left", "filled": true, "color": "#5a9ab0", "size": 30, "opacity": 1},
      "encoding": {"x": {"field": "x", "type": "quantitative"}, "y": {"field": "y", "type": "quantitative"}}},
     {"data": {"values": [{"x":1965.32,"y":61.54,"t":"b) Ścieżki globalnych emisji CO₂ netto"}]},
      "mark": {"type": "text", "align": "left", "baseline": "alphabetic", "fontSize": 20, "fontWeight": "bold", "color": "#111111"},
      "encoding": {"x": {"field": "x", "type": "quantitative"}, "y": {"field": "y", "type": "quantitative"}, "text": {"field": "t", "type": "nominal"}}},
     {"data": {"values": [{"x":1965.32,"y":56.88,"t":"Mld ton CO₂ rocznie [GtCO₂/rok]"},
        {"x":2035.2,"y":44.34,"t":"Emisje CO₂ spadają"},{"x":2035.2,"y":39.88,"t":"od 2020 i osiągają"},{"x":2035.2,"y":34.88,"t":"zero netto w"},{"x":2055.04,"y":30.4,"t":"lub"},
        {"x":1941.86,"y":-13.12,"t":"Szybsze redukcje emisji CO₂ zmniejszają"},{"x":1941.86,"y":-17.46,"t":"skumulowane emisje CO₂ pokazane w panelu"}]},
      "mark": {"type": "text", "align": "left", "baseline": "alphabetic", "fontSize": 20, "color": "#333333"},
      "encoding": {"x": {"field": "x", "type": "quantitative"}, "y": {"field": "y", "type": "quantitative"}, "text": {"field": "t", "type": "nominal"}}},
     {"data": {"values": [{"x":2035.2,"y":30.4,"t":"2055"},{"x":2109.54,"y":-17.46,"t":"c."}]},
      "mark": {"type": "text", "align": "left", "baseline": "alphabetic", "fontSize": 20, "fontWeight": "bold", "color": "#333333"},
      "encoding": {"x": {"field": "x", "type": "quantitative"}, "y": {"field": "y", "type": "quantitative"}, "text": {"field": "t", "type": "nominal"}}},
     {"data": {"values": [{"x":2068.31,"y":30.4,"t":"2040"}]},
      "mark": {"type": "text", "align": "left", "baseline": "alphabetic", "fontSize": 20, "fontWeight": "bold", "color": "#5a9ab0"},
      "encoding": {"x": {"field": "x", "type": "quantitative"}, "y": {"field": "y", "type": "quantitative"}, "text": {"field": "t", "type": "nominal"}}}
    ]
   },
   {
    "width": 345, "height": 300,
    "layer": [
     {"data": {"values": [{"year":2020,"v":2290},{"year":2024,"v":2445},{"year":2027,"v":2545},{"year":2030,"v":2615},{"year":2033,"v":2660},{"year":2036,"v":2680},{"year":2040,"v":2688},{"year":2100,"v":2688}]},
      "mark": {"type": "line", "color": "#5a9ab0", "strokeWidth": 4.5, "interpolate": "monotone"},
      "encoding": {
       "x": {"field": "year", "type": "quantitative", "scale": {"domain": [1960, 2100], "nice": false, "zero": false},
         "axis": {"values": [1960,1980,2000,2020,2040,2060,2080,2100], "format": "d", "labelExpr": "(datum.value - 1980) % 40 === 0 ? datum.label : ''", "title": null, "tickSize": 5, "labelFontSize": 19, "labelPadding": 3}},
       "y": {"field": "v", "type": "quantitative", "scale": {"domain": [0, 3490], "nice": false},
         "axis": {"values": [0,500,1000,1500,2000,2500,3000], "format": "d", "labelExpr": "datum.value % 1000 === 0 ? datum.label : ''", "title": null, "tickSize": 7, "labelFontSize": 19, "labelPadding": 4}}
      }},
     {"data": {"values": [
       {"year":1960,"v":633},{"year":1964,"v":680},{"year":1968,"v":760},{"year":1972,"v":830},{"year":1976,"v":930},{"year":1980,"v":1020},{"year":1984,"v":1140},{"year":1988,"v":1265},
       {"year":1992,"v":1365},{"year":1996,"v":1475},{"year":2000,"v":1605},{"year":2004,"v":1740},{"year":2008,"v":1860},{"year":2012,"v":1990},{"year":2016,"v":2140},{"year":2020,"v":2290},
       {"year":2024,"v":2450},{"year":2028,"v":2610},{"year":2032,"v":2740},{"year":2036,"v":2860},{"year":2040,"v":2930},{"year":2044,"v":2975},{"year":2048,"v":2998},{"year":2052,"v":3010},
       {"year":2056,"v":3013},{"year":2100,"v":3013}]},
      "mark": {"type": "line", "color": "#bdbdbd", "strokeWidth": 4.5, "interpolate": "monotone"},
      "encoding": {"x": {"field": "year", "type": "quantitative"}, "y": {"field": "v", "type": "quantitative"}}},
     {"data": {"values": [{"x1":2017.2,"x2":2017.2,"y1":2009,"y2":2494}]},
      "mark": {"type": "rule", "color": "#555555", "strokeWidth": 1.2, "strokeDash": [3, 2]},
      "encoding": {"x": {"field": "x1", "type": "quantitative"}, "x2": {"field": "x2"}, "y": {"field": "y1", "type": "quantitative"}, "y2": {"field": "y2"}}},
     {"data": {"values": [{"x1":2016.4,"x2":2018.0,"y1":2009,"y2":2009},{"x1":2016.4,"x2":2018.0,"y1":2494,"y2":2494}]},
      "mark": {"type": "rule", "color": "#555555", "strokeWidth": 1.2},
      "encoding": {"x": {"field": "x1", "type": "quantitative"}, "x2": {"field": "x2"}, "y": {"field": "y1", "type": "quantitative"}, "y2": {"field": "y2"}}},
     {"data": {"values": [{"x1":2068.4,"x2":2068.4,"y1":2990,"y2":2820}]},
      "mark": {"type": "rule", "color": "#5a9ab0", "strokeWidth": 1.5},
      "encoding": {"x": {"field": "x1", "type": "quantitative"}, "x2": {"field": "x2"}, "y": {"field": "y1", "type": "quantitative"}, "y2": {"field": "y2"}}},
     {"data": {"values": [{"x":2068.4,"y":2810}]},
      "mark": {"type": "point", "shape": "triangle-down", "filled": true, "color": "#5a9ab0", "size": 30, "opacity": 1},
      "encoding": {"x": {"field": "x", "type": "quantitative"}, "y": {"field": "y", "type": "quantitative"}}},
     {"data": {"values": [{"x":1980.7,"y":3587.7,"t":"c) Skumulowane emisje CO₂ netto"}]},
      "mark": {"type": "text", "align": "left", "baseline": "alphabetic", "fontSize": 20, "fontWeight": "bold", "color": "#111111"},
      "encoding": {"x": {"field": "x", "type": "quantitative"}, "y": {"field": "y", "type": "quantitative"}, "text": {"field": "t", "type": "nominal"}}},
     {"data": {"values": [{"x":1980.7,"y":3308.5,"t":"Mld ton CO₂ [GtCO₂]"},
        {"x":2000.05,"y":1252.9,"t":"Skumulowane emisje CO₂"},{"x":2000.05,"y":981.8,"t":"w ścieżkach emisji osiągających"},{"x":2000.05,"y":709.6,"t":"zero w"},{"x":2046.96,"y":709.6,"t":"i"},
        {"x":1957.57,"y":-763.1,"t":"Maksymalny wzrost temperatury jest zdeterminowany przez skumulowane emisje CO₂ netto oraz"},
        {"x":1957.57,"y":-1015.6,"t":"wymuszenia radiacyjne od innych czynników antropogenicznych (metan, tlenku azotu, aerozole i in.)"}]},
      "mark": {"type": "text", "align": "left", "baseline": "alphabetic", "fontSize": 20, "color": "#333333"},
      "encoding": {"x": {"field": "x", "type": "quantitative"}, "y": {"field": "y", "type": "quantitative"}, "text": {"field": "t", "type": "nominal"}}},
     {"data": {"values": [{"x":2026.0,"y":709.6,"t":"2055"}]},
      "mark": {"type": "text", "align": "left", "baseline": "alphabetic", "fontSize": 20, "fontWeight": "bold", "color": "#999999"},
      "encoding": {"x": {"field": "x", "type": "quantitative"}, "y": {"field": "y", "type": "quantitative"}, "text": {"field": "t", "type": "nominal"}}},
     {"data": {"values": [{"x":2050.37,"y":709.6,"t":"2040"}]},
      "mark": {"type": "text", "align": "left", "baseline": "alphabetic", "fontSize": 20, "fontWeight": "bold", "color": "#5a9ab0"},
      "encoding": {"x": {"field": "x", "type": "quantitative"}, "y": {"field": "y", "type": "quantitative"}, "text": {"field": "t", "type": "nominal"}}}
    ]
   },
   {
    "width": 354.1, "height": 300,
    "layer": [
     {"data": {"values": [
       {"year":1960,"v":0.0},{"year":1965,"v":0.0},{"year":1967,"v":0.01},{"year":1969.2,"v":0.025},{"year":1971.9,"v":0.08},{"year":1975.9,"v":0.135},{"year":1980,"v":0.195},{"year":1983.8,"v":0.215},
       {"year":1986.5,"v":0.25},{"year":1989.5,"v":0.285},{"year":1992,"v":0.305},{"year":1994.9,"v":0.325},{"year":1997.6,"v":0.33},{"year":2001.7,"v":0.325},{"year":2004.4,"v":0.345},{"year":2008.4,"v":0.425},
       {"year":2012.5,"v":0.485},{"year":2016.5,"v":0.545},{"year":2020.6,"v":0.62},{"year":2024.6,"v":0.677},{"year":2028.7,"v":0.697},{"year":2031.4,"v":0.695},{"year":2034,"v":0.67},{"year":2038.2,"v":0.64},
       {"year":2044.9,"v":0.58},{"year":2051.7,"v":0.52},{"year":2058.5,"v":0.465},{"year":2065.2,"v":0.437},{"year":2072,"v":0.405},{"year":2078.8,"v":0.387},{"year":2085.5,"v":0.38},{"year":2092.3,"v":0.357},{"year":2099.7,"v":0.337}]},
      "mark": {"type": "line", "color": "#bdbdbd", "strokeWidth": 4.5},
      "encoding": {
       "x": {"field": "year", "type": "quantitative", "scale": {"domain": [1956.31, 2100], "nice": false, "zero": false},
         "axis": {"values": [1960,1980,2000,2020,2040,2060,2080,2100], "format": "d", "labelExpr": "(datum.value - 1980) % 40 === 0 ? datum.label : ''", "title": null, "tickSize": 5, "labelFontSize": 19, "labelPadding": 3, "domain": false}},
       "y": {"field": "v", "type": "quantitative", "scale": {"domain": [0, 3.5], "nice": false},
         "axis": {"values": [0,0.5,1,1.5,2,2.5,3], "labelExpr": "datum.value % 1 === 0 ? format(datum.value, 'd') : ''", "title": null, "tickSize": 7, "labelFontSize": 19, "labelPadding": 4, "offset": -9.1}}
      }},
     {"data": {"values": [{"x1":1960,"x2":2100,"y":0}]},
      "mark": {"type": "rule", "color": "#b3b3b3", "strokeWidth": 1.5},
      "encoding": {"x": {"field": "x1", "type": "quantitative"}, "x2": {"field": "x2"}, "y": {"field": "y", "type": "quantitative"}}},
     {"data": {"values": [{"year":2030.1,"v":0.69},{"year":2100,"v":0.69}]},
      "mark": {"type": "line", "color": "#9e2f8d", "strokeWidth": 4.5},
      "encoding": {"x": {"field": "year", "type": "quantitative"}, "y": {"field": "v", "type": "quantitative"}}},
     {"data": {"values": [{"x1":2011.13,"x2":2011.13,"y1":-0.07,"y2":1.18}]},
      "mark": {"type": "rule", "color": "#555555", "strokeWidth": 1.2, "strokeDash": [3, 2]},
      "encoding": {"x": {"field": "x1", "type": "quantitative"}, "x2": {"field": "x2"}, "y": {"field": "y1", "type": "quantitative"}, "y2": {"field": "y2"}}},
     {"data": {"values": [{"x1":2010.5,"x2":2011.76,"y1":1.18,"y2":1.18}]},
      "mark": {"type": "rule", "color": "#555555", "strokeWidth": 1.2},
      "encoding": {"x": {"field": "x1", "type": "quantitative"}, "x2": {"field": "x2"}, "y": {"field": "y1", "type": "quantitative"}, "y2": {"field": "y2"}}},
     {"data": {"values": [{"x1":2074.97,"x2":2074.97,"y1":0.4,"y2":0.6}]},
      "mark": {"type": "rule", "color": "#b0609b", "strokeWidth": 1.5},
      "encoding": {"x": {"field": "x1", "type": "quantitative"}, "x2": {"field": "x2"}, "y": {"field": "y1", "type": "quantitative"}, "y2": {"field": "y2"}}},
     {"data": {"values": [{"x":2074.97,"y":0.615}]},
      "mark": {"type": "point", "shape": "triangle-up", "filled": true, "color": "#b0609b", "size": 30, "opacity": 1},
      "encoding": {"x": {"field": "x", "type": "quantitative"}, "y": {"field": "y", "type": "quantitative"}}},
     {"data": {"values": [{"x":1977.33,"y":3.598,"t":"d) Ścieżki wymuszeń radiacyjnych nie-CO₂"}]},
      "mark": {"type": "text", "align": "left", "baseline": "alphabetic", "fontSize": 20, "fontWeight": "bold", "color": "#111111"},
      "encoding": {"x": {"field": "x", "type": "quantitative"}, "y": {"field": "y", "type": "quantitative"}, "text": {"field": "t", "type": "nominal"}}},
     {"data": {"values": [{"x":1977.33,"y":3.318,"t":"Waty na metr kwadratowy [W/m²]"},{"x":2025.33,"y":1.548,"t":"Inne wymuszenia radiacyjne"},{"x":2114.61,"y":1.288,"t":"lub"}]},
      "mark": {"type": "text", "align": "left", "baseline": "alphabetic", "fontSize": 20, "color": "#333333"},
      "encoding": {"x": {"field": "x", "type": "quantitative"}, "y": {"field": "y", "type": "quantitative"}, "text": {"field": "t", "type": "nominal"}}},
     {"data": {"values": [{"x":2025.33,"y":1.288,"t":"redukowane po 2030 r."}]},
      "mark": {"type": "text", "align": "left", "baseline": "alphabetic", "fontSize": 20, "fontWeight": "bold", "color": "#8c8c8c"},
      "encoding": {"x": {"field": "x", "type": "quantitative"}, "y": {"field": "y", "type": "quantitative"}, "text": {"field": "t", "type": "nominal"}}},
     {"data": {"values": [{"x":2025.33,"y":1.003,"t":"nie redukowane po 2030 r."}]},
      "mark": {"type": "text", "align": "left", "baseline": "alphabetic", "fontSize": 20, "fontWeight": "bold", "color": "#a0308f"},
      "encoding": {"x": {"field": "x", "type": "quantitative"}, "y": {"field": "y", "type": "quantitative"}, "text": {"field": "t", "type": "nominal"}}}
    ]
   }
  ],
  "spacing": 100.9,
  "bounds": "flush"
 }
]
}
